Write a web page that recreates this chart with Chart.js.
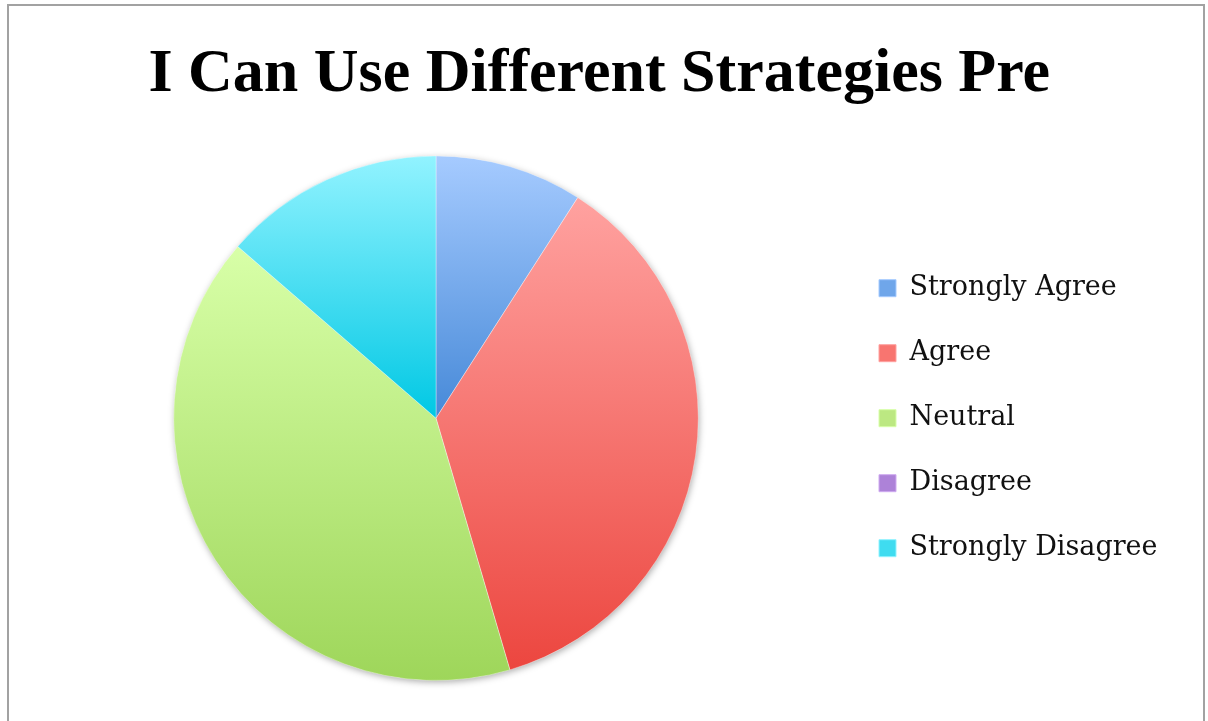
<!DOCTYPE html>
<html>
<head>
<meta charset="utf-8">
<script src="https://cdn.jsdelivr.net/npm/chart.js@4"></script>
<style>
  html, body { margin: 0; padding: 0; background: #fff; overflow: hidden; }
  #frame { position: absolute; left: 7px; top: 4px; width: 1198px; height: 760px; border: 2px solid #a2a2a2; box-sizing: border-box; }
  #wrap { position: absolute; left: 0; top: 0; width: 1208px; height: 721px; }
</style>
</head>
<body>
<div id="frame"></div>
<div id="wrap"><canvas id="pie"></canvas></div>
<script>
'use strict';

var TITLE = 'I Can Use Different Strategies Pre';
var LABELS = ['Strongly Agree', 'Agree', 'Neutral', 'Disagree', 'Strongly Disagree'];
var COUNTS = [2, 8, 9, 0, 3];

// light (top), legend swatch, dark (bottom) for each slice
var SHADES = [
  ['#a6cbff', '#6fa6ea', '#4689d8'],
  ['#ffa2a0', '#f87570', '#ec463f'],
  ['#d8ffa8', '#bce882', '#9ed65a'],
  ['#cfaaf0', '#ad82d8', '#9262c4'],
  ['#92f3ff', '#3fdcf0', '#00c8e4']
];

var LEGEND_FONT = { family: "'DejaVu Serif', serif", size: 27 };
var LEGEND_PAD = 38, BOX = 17;

function total() {
  return COUNTS.reduce(function (s, v) { return s + v; }, 0);
}

// vertical gradient spanning the slice's own top..bottom extent
function sliceFill(c) {
  var i = c.dataIndex;
  var col = SHADES[i];
  var area = c.chart.chartArea;
  if (c.type !== 'data' || !area || !COUNTS[i]) return col[1];
  var cx = (area.left + area.right) / 2, cy = (area.top + area.bottom) / 2;
  var r = Math.min(area.width, area.height) / 2;
  var t = total(), before = 0;
  for (var k = 0; k < i; k++) before += COUNTS[k];
  var a0 = -Math.PI / 2 + before / t * Math.PI * 2;
  var a1 = a0 + COUNTS[i] / t * Math.PI * 2;
  var ys = [cy, cy + r * Math.sin(a0), cy + r * Math.sin(a1)];
  if (a0 < Math.PI / 2 && a1 > Math.PI / 2) ys.push(cy + r);
  if (a0 < Math.PI * 1.5 && a1 > Math.PI * 1.5) ys.push(cy - r);
  var y0 = Math.min.apply(null, ys), y1 = Math.max.apply(null, ys);
  var g = c.chart.ctx.createLinearGradient(0, y0, 0, y1);
  g.addColorStop(0, col[0]);
  g.addColorStop(1, col[2]);
  return g;
}

// soft drop shadow under the whole pie
var pieShadow = {
  id: 'pieShadow',
  beforeDatasetsDraw: function (chart) {
    var arc = chart.getDatasetMeta(0).data[0];
    if (!arc) return;
    var ctx = chart.ctx;
    ctx.save();
    ctx.shadowColor = 'rgba(0,0,0,0.35)';
    ctx.shadowBlur = 7;
    ctx.shadowOffsetX = 1;
    ctx.shadowOffsetY = 2;
    ctx.fillStyle = '#fff';
    ctx.beginPath();
    ctx.arc(arc.x, arc.y, arc.outerRadius - 0.5, 0, Math.PI * 2);
    ctx.fill();
    ctx.restore();
  }
};

// size the right padding so the legend column starts at a fixed x
var mctx = document.createElement('canvas').getContext('2d');
mctx.font = LEGEND_FONT.size + 'px ' + LEGEND_FONT.family;
var widest = Math.max.apply(null, LABELS.map(function (l) { return mctx.measureText(l).width; }));
var legendW = LEGEND_PAD + BOX + LEGEND_FONT.size / 2 + widest + 10;
var legendLeft = 841;
var padRight = Math.max(0, 1208 - legendLeft - legendW);

new Chart(document.getElementById('pie'), {
  type: 'pie',
  data: {
    labels: LABELS,
    datasets: [{
      data: COUNTS,
      backgroundColor: sliceFill,
      borderColor: 'rgba(255,255,255,0.35)',
      borderWidth: 1
    }]
  },
  options: {
    responsive: true,
    maintainAspectRatio: false,
    animation: false,
    events: [],
    layout: { padding: { left: 31, right: padRight, top: 0, bottom: 40 } },
    plugins: {
      title: {
        display: true,
        text: TITLE,
        color: '#000',
        font: { family: "'Liberation Serif', serif", size: 62, weight: 'bold', lineHeight: 1.2 },
        padding: { top: 38, bottom: 43 }
      },
      legend: {
        position: 'right',
        align: 'center',
        fullSize: false,
        labels: {
          color: '#111',
          font: LEGEND_FONT,
          boxWidth: BOX,
          boxHeight: BOX,
          padding: LEGEND_PAD,
          generateLabels: function (chart) {
            var items = Chart.overrides.pie.plugins.legend.labels.generateLabels(chart);
            items.forEach(function (it, i) {
              it.fillStyle = SHADES[i][1];
              it.strokeStyle = SHADES[i][0];
              it.lineWidth = 1;
              it.hidden = false;
            });
            return items;
          }
        }
      },
      tooltip: { enabled: false }
    }
  },
  plugins: [pieShadow]
});
</script>
</body>
</html>
